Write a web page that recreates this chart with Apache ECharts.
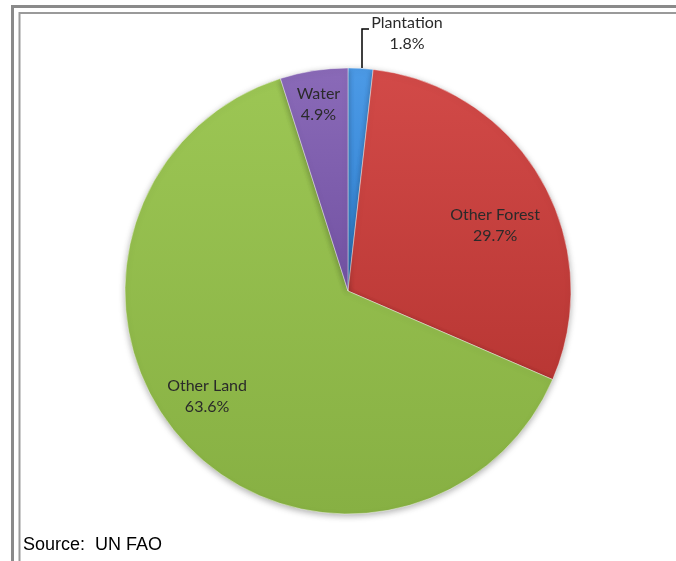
<!DOCTYPE html>
<html>
<head>
<meta charset="utf-8">
<script src="https://cdn.jsdelivr.net/npm/echarts@6/dist/echarts.min.js"></script>
<style>
html,body{margin:0;padding:0;background:#fff;}
#chart{width:676px;height:561px;}
</style>
</head>
<body>
<div id="chart"></div>
<script>
const categories = ['Plantation', 'Other Forest', 'Other Land', 'Water'];
const values = [1.8, 29.7, 63.6, 4.9];
const sourceText = 'Source:  UN FAO';

const colorsTop = ['#4c9ae6', '#d24a48', '#9cc654', '#8a6ab8'];
const colorsBottom = ['#2f7fcf', '#b93734', '#87b043', '#7252a2'];
const labelOffsets = [[0, 0], [48, -8], [-56, 29], [-12, -74]];

const chart = echarts.init(document.getElementById('chart'), null, {renderer: 'canvas'});

const data = categories.map((c, i) => ({
  name: c,
  value: values[i],
  itemStyle: {
    color: {
      type: 'linear', x: 0, y: 0, x2: 0, y2: 1,
      colorStops: [
        {offset: 0, color: colorsTop[i]},
        {offset: 1, color: colorsBottom[i]}
      ]
    }
  }
}));

chart.setOption({
  animation: false,
  backgroundColor: '#fff',
  graphic: [
    {type: 'rect', shape: {x: 12.5, y: 6.5, width: 700, height: 600}, style: {fill: 'none', stroke: '#8a8a8a', lineWidth: 3}},
    {type: 'rect', shape: {x: 19.5, y: 13, width: 700, height: 600}, style: {fill: 'none', stroke: '#9a9a9a', lineWidth: 2}},
    {type: 'text', left: 23, top: 536, style: {text: sourceText, fontSize: 18, fontFamily: '"Liberation Sans", Arial, sans-serif', fill: '#000'}},
    {type: 'polyline', shape: {points: [[362, 68], [362, 29], [369, 29]]}, style: {stroke: '#000', lineWidth: 1.5, fill: 'none'}}
  ],
  series: [{
    type: 'pie',
    center: [348, 291],
    radius: [0, 223],
    startAngle: 90,
    clockwise: true,
    avoidLabelOverlap: false,
    data: data,
    itemStyle: {
      borderColor: 'rgba(255,255,255,0.55)',
      borderWidth: 0.8,
      shadowBlur: 6,
      shadowColor: 'rgba(0,0,0,0.3)',
      shadowOffsetY: 2
    },
    label: {
      show: true,
      position: 'inside',
      formatter: p => p.name + '\n' + p.value.toFixed(1) + '%',
      fontFamily: 'Lato, "Open Sans", sans-serif',
      fontSize: 16,
      lineHeight: 21,
      color: '#2a2a2a',
      align: 'center'
    },
    labelLine: {show: false},
    labelLayout: function (params) {
      const i = params.dataIndex;
      if (i === 0) {
        return {x: 407, y: 33, align: 'center', verticalAlign: 'middle'};
      }
      return {dx: labelOffsets[i][0], dy: labelOffsets[i][1]};
    }
  }]
});
</script>
</body>
</html>
